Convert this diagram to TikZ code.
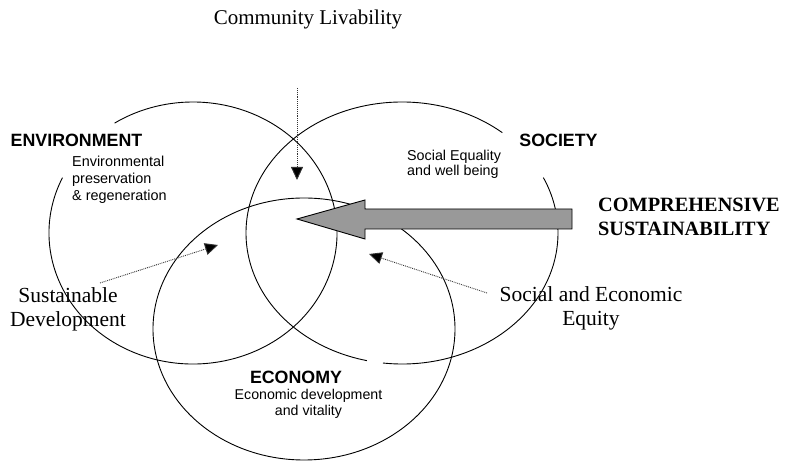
\documentclass[tikz,border=0pt]{standalone}
\usepackage{fontspec}
\setmainfont{Liberation Serif}
\newfontfamily\arialfont{Liberation Sans}
\usetikzlibrary{arrows.meta}

\begin{document}
\begin{tikzpicture}[x=1pt,y=1pt,
  ring/.style={line width=0.9pt},
  pointer/.style={densely dotted, line width=0.9pt, draw=black!80,
    -{Triangle[length=13pt,width=12pt,fill=black]}},
  bigarrow/.style={draw=black, line width=0.9pt, fill=black!40},
  headlabel/.style={font=\arialfont\bfseries\fontsize{17.8}{20}\selectfont, inner sep=0pt},
  sublabel/.style={font=\arialfont\fontsize{14.4}{17}\selectfont, inner sep=0pt},
  serifbig/.style={font=\fontsize{21.5}{23.5}\selectfont, inner sep=0pt, align=center},
  titlelabel/.style={font=\fontsize{21}{24}\selectfont, inner sep=0pt},
  boldserif/.style={font=\bfseries\fontsize{20.3}{24}\selectfont, inner sep=0pt, align=left}
]
\useasboundingbox (0,0) rectangle (793,462);

% Environment circle, open where its label sits
\draw[ring] (193,229) ++(155:144pt and 131pt)
  arc[start angle=155, end angle=483, x radius=144pt, y radius=131pt];
% Society circle, open at its label and with a short break at the bottom
\draw[ring] (402,229) ++(50:156pt and 131pt)
  arc[start angle=50, end angle=257, x radius=156pt, y radius=131pt];
\draw[ring] (402,229) ++(263:156pt and 131pt)
  arc[start angle=263, end angle=385, x radius=156pt, y radius=131pt];
% Economy circle
\draw[ring] (304,133) ellipse[x radius=151pt, y radius=131pt];

% Labels
\node[titlelabel] (liv) at (308,443) {Community Livability};
\node[headlabel] (env) at (76.5,322) {ENVIRONMENT};
\node[sublabel, anchor=west, align=left] (envtxt) at (72,282)
  {Environmental\\preservation\\\& regeneration};
\node[headlabel] (soc) at (558.5,322) {SOCIETY};
\node[sublabel, anchor=west, align=left, font=\arialfont\fontsize{14.3}{15}\selectfont] (soctxt) at (407,297.5)
  {Social Equality\\and well being};
\node[headlabel] (eco) at (296,84.5) {ECONOMY};
\node[sublabel, align=center, font=\arialfont\fontsize{14.2}{16.5}\selectfont] (ecotxt) at (308.5,58)
  {Economic development\\and vitality};
\node[boldserif, anchor=west] (comp) at (598,245)
  {COMPREHENSIVE\\SUSTAINABILITY};
\node[serifbig] (sust) at (68,152.5) {Sustainable\\Development};
\node[serifbig] (equity) at (591,153.5) {Social and Economic\\Equity};

% Dotted pointers into the overlaps
\coordinate (livtail) at (297,374);
\coordinate (livtip) at (297,282);
\coordinate (susttail) at (100,179);
\coordinate (susttip) at (218,217);
\coordinate (eqtail) at (487,169);
\coordinate (eqtip) at (369,208);
\draw[pointer] (livtail) -- (livtip);
\draw[pointer] (susttail) -- (susttip);
\draw[pointer] (eqtail) -- (eqtip);

% Broad arrow pointing to the centre
\coordinate (tip) at (297,243);
\draw[bigarrow] (tip) -- (365,262) -- (365,253) -- (572,253)
  -- (572,233) -- (365,233) -- (365,223) -- cycle;
\end{tikzpicture}
\end{document}
